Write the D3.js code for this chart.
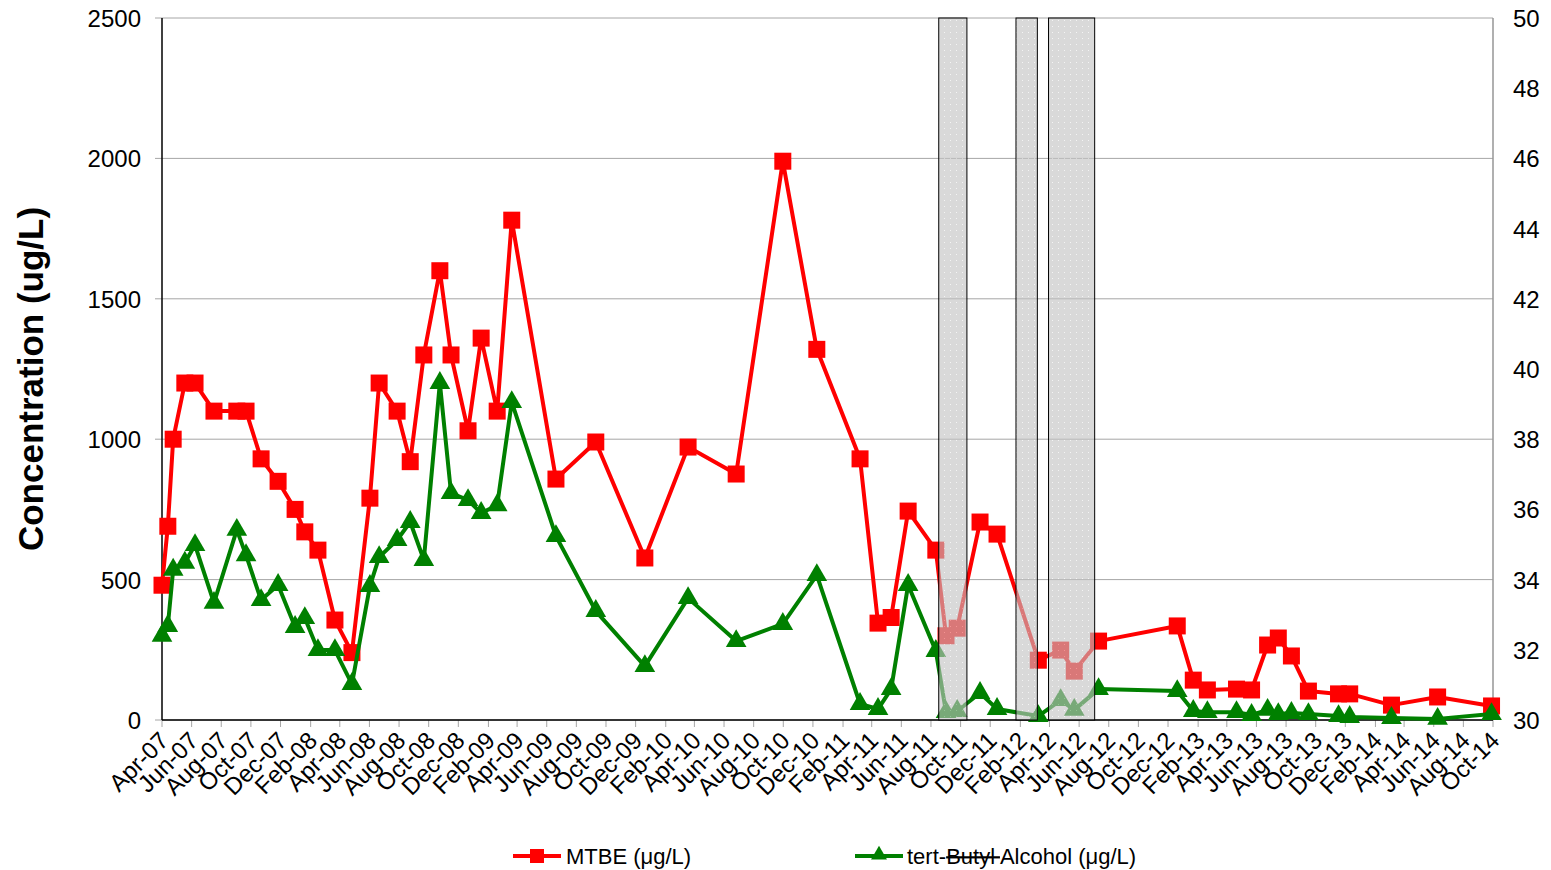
<!DOCTYPE html>
<html>
<head>
<meta charset="utf-8">
<script src="https://cdn.jsdelivr.net/npm/d3@7"></script>
<style>
body { margin: 0; background: #fff; }
text { font-family: "Liberation Sans", Arial, sans-serif; }
</style>
</head>
<body>
<script>
// sample dates (shared by both series)
var dates = ["2007-04-01","2007-04-13","2007-04-24","2007-05-18","2007-06-08","2007-07-17","2007-09-02","2007-09-21",
  "2007-10-22","2007-11-26","2007-12-31","2008-01-20","2008-02-16","2008-03-22","2008-04-26","2008-06-02",
  "2008-06-21","2008-07-28","2008-08-24","2008-09-21","2008-10-24","2008-11-16","2008-12-21","2009-01-17",
  "2009-02-19","2009-03-21","2009-06-20","2009-09-10","2009-12-20","2010-03-19","2010-06-26","2010-09-30",
  "2010-12-09","2011-03-08","2011-04-14","2011-05-11","2011-06-15","2011-08-11","2011-09-01","2011-09-24",
  "2011-11-10","2011-12-15","2012-03-09","2012-04-24","2012-05-22","2012-07-11","2012-12-20","2013-01-22",
  "2013-02-20","2013-04-21","2013-05-22","2013-06-24","2013-07-16","2013-08-12","2013-09-16","2013-11-17",
  "2013-12-10","2014-03-06","2014-06-09","2014-09-28"];

var mtbe = [480, 690, 1000, 1200, 1200, 1100, 1100, 1100, 930, 850, 750, 670, 605, 356, 240, 790,
  1200, 1100, 920, 1300, 1600, 1300, 1030, 1360, 1100, 1780, 858, 990, 577, 972, 876, 1990,
  1320, 930, 345, 365, 744, 605, 300, 327, 705, 662, 213, 249, 174, 281, 335, 142,
  107, 110, 107, 267, 292, 228, 103, 93, 93, 53, 82, 50];

var tba = [300, 335, 535, 560, 623, 417, 677, 587, 427, 481, 331, 363, 249, 249, 128, 477,
  580, 641, 705, 570, 1200, 808, 783, 737, 765, 1132, 655, 388, 192, 434, 281, 342,
  516, 57, 39, 110, 481, 246, 28, 32, 96, 39, 14, 71, 36, 110, 103, 32,
  28, 28, 18, 36, 21, 25, 21, 14, 11, 7, 4, 21];

// shaded periods
var shadeStart = ["2011-08-17", "2012-01-23", "2012-03-30"];
var shadeEnd   = ["2011-10-14", "2012-03-07", "2012-07-03"];

var leftTicks = [0, 500, 1000, 1500, 2000, 2500];
var rightTicks = [30, 32, 34, 36, 38, 40, 42, 44, 46, 48, 50];

var width = 1551, height = 870;
var parse = d3.timeParse("%Y-%m-%d");

var svg = d3.select("body").append("svg")
  .attr("width", width)
  .attr("height", height);

var x = d3.scaleTime()
  .domain([new Date(2007, 3, 1), new Date(2014, 9, 1)])
  .range([162, 1493]);

var y = d3.scaleLinear().domain([0, 2500]).range([720, 18]);
var y2 = d3.scaleLinear().domain([30, 50]).range([720, 18]);

// pattern for the shaded boxes
var defs = svg.append("defs");
var pat = defs.append("pattern")
  .attr("id", "dots")
  .attr("patternUnits", "userSpaceOnUse")
  .attr("width", 6).attr("height", 6);
pat.append("rect").attr("width", 6).attr("height", 6).attr("fill", "#c2c2c2");
pat.append("rect").attr("x", 2).attr("y", 2).attr("width", 1).attr("height", 1).attr("fill", "#eeeeee");

// gridlines
svg.append("g").selectAll("line")
  .data(leftTicks)
  .enter().append("line")
  .attr("x1", 155).attr("x2", 1493)
  .attr("y1", function(d) { return y(d); })
  .attr("y2", function(d) { return y(d); })
  .attr("stroke", "#a6a6a6")
  .attr("stroke-width", 1);

// right axis line
svg.append("line")
  .attr("x1", 1493).attr("x2", 1493).attr("y1", 18).attr("y2", 720)
  .attr("stroke", "#969696").attr("stroke-width", 1.5);

// left axis labels
svg.append("g").selectAll("text")
  .data(leftTicks)
  .enter().append("text")
  .attr("x", 141)
  .attr("y", function(d) { return y(d) + 9; })
  .attr("text-anchor", "end")
  .attr("font-size", 24)
  .text(function(d) { return d; });

// right axis labels
svg.append("g").selectAll("text")
  .data(rightTicks)
  .enter().append("text")
  .attr("x", 1513)
  .attr("y", function(d) { return y2(d) + 9; })
  .attr("font-size", 24)
  .text(function(d) { return d; });

// x axis
var tickDates = d3.timeMonth.range(new Date(2007, 3, 1), new Date(2014, 9, 2), 2);
var fmt = d3.timeFormat("%b-%y");

svg.append("g").selectAll("line")
  .data(tickDates)
  .enter().append("line")
  .attr("x1", function(d) { return x(d); })
  .attr("x2", function(d) { return x(d); })
  .attr("y1", 720).attr("y2", 727)
  .attr("stroke", "#a6a6a6");

svg.append("g").selectAll("text")
  .data(tickDates)
  .enter().append("text")
  .attr("text-anchor", "end")
  .attr("font-size", 24)
  .attr("transform", function(d) { return "translate(" + (x(d) + 8) + ",742) rotate(-45)"; })
  .text(function(d) { return fmt(d); });

svg.append("line")
  .attr("x1", 162).attr("x2", 1493).attr("y1", 720).attr("y2", 720)
  .attr("stroke", "#000").attr("stroke-width", 1.5);
svg.append("line")
  .attr("x1", 162).attr("x2", 162).attr("y1", 18).attr("y2", 720)
  .attr("stroke", "#000").attr("stroke-width", 1.5);

// y title
svg.append("text")
  .attr("transform", "translate(43,379) rotate(-90)")
  .attr("text-anchor", "middle")
  .attr("font-size", 35)
  .attr("font-weight", "bold")
  .text("Concentration (ug/L)");

var line = d3.line()
  .x(function(d) { return x(d.date); })
  .y(function(d) { return y(d.v); });

var mtbeData = dates.map(function(d, i) { return { date: parse(d), v: mtbe[i] }; });
var tbaData = dates.map(function(d, i) { return { date: parse(d), v: tba[i] }; });

// MTBE
svg.append("path")
  .datum(mtbeData)
  .attr("d", line)
  .attr("fill", "none")
  .attr("stroke", "#ff0000")
  .attr("stroke-width", 4)
  .attr("stroke-linejoin", "round");

svg.append("g").selectAll("rect")
  .data(mtbeData)
  .enter().append("rect")
  .attr("x", function(d) { return x(d.date) - 8.5; })
  .attr("y", function(d) { return y(d.v) - 8.5; })
  .attr("width", 17).attr("height", 17)
  .attr("fill", "#ff0000");

// TBA
svg.append("path")
  .datum(tbaData)
  .attr("d", line)
  .attr("fill", "none")
  .attr("stroke", "#008000")
  .attr("stroke-width", 4)
  .attr("stroke-linejoin", "round");

var tri = d3.symbol().type(d3.symbolTriangle).size(185);
svg.append("g").selectAll("path")
  .data(tbaData)
  .enter().append("path")
  .attr("d", tri)
  .attr("transform", function(d) { return "translate(" + x(d.date) + "," + y(d.v) + ")"; })
  .attr("fill", "#008000");

// shaded periods, drawn over the data
svg.append("g").selectAll("rect")
  .data(shadeStart)
  .enter().append("rect")
  .attr("x", function(d) { return x(parse(d)); })
  .attr("y", 18)
  .attr("width", function(d, i) { return x(parse(shadeEnd[i])) - x(parse(d)); })
  .attr("height", 702)
  .attr("fill", "url(#dots)")
  .attr("fill-opacity", 0.62)
  .attr("stroke", "#000")
  .attr("stroke-width", 1);

// legend
var lg = svg.append("g");
lg.append("line").attr("x1", 513).attr("x2", 561).attr("y1", 856).attr("y2", 856)
  .attr("stroke", "#ff0000").attr("stroke-width", 4);
lg.append("rect").attr("x", 530).attr("y", 849).attr("width", 14).attr("height", 14).attr("fill", "#ff0000");
lg.append("text").attr("x", 566).attr("y", 864).attr("font-size", 22).text("MTBE (μg/L)");

lg.append("line").attr("x1", 855).attr("x2", 903).attr("y1", 856).attr("y2", 856)
  .attr("stroke", "#008000").attr("stroke-width", 4);
lg.append("path").attr("d", d3.symbol().type(d3.symbolTriangle).size(110))
  .attr("transform", "translate(879,855)").attr("fill", "#008000");
var t2 = lg.append("text").attr("x", 907).attr("y", 864).attr("font-size", 22);
t2.append("tspan").text("tert-");
t2.append("tspan").style("text-decoration", "line-through").text("Butyl ");
t2.append("tspan").text("Alcohol (μg/L)");
</script>
</body>
</html>
